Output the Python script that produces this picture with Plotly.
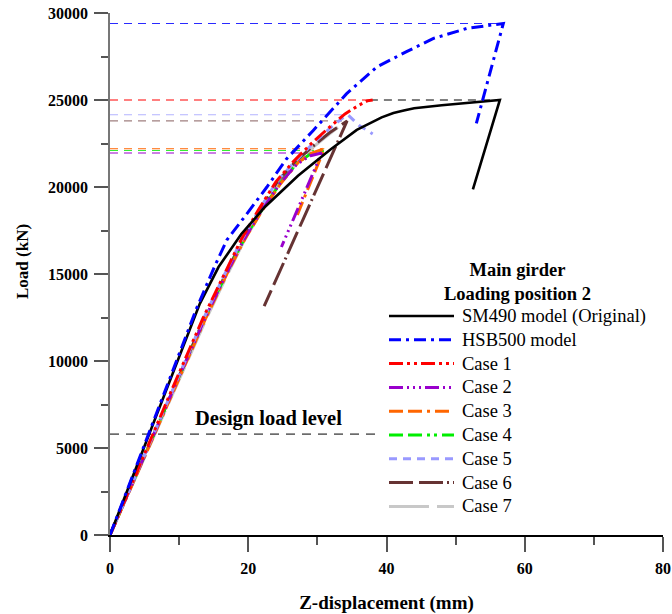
import plotly.graph_objects as go

# ---------------- data ----------------
sm490_x = [0, 4.3, 8.7, 13.0, 15.7, 17.4, 19.0, 22.4, 27.2, 31.8, 35.7, 39.3, 41.0, 42.5, 44.0, 48.0, 52.0, 56.4, 52.5]
sm490_y = [0, 4400, 8900, 13300, 15400, 16400, 17300, 18850, 20650, 22130, 23280, 24000, 24250, 24400, 24530, 24700, 24850, 25000, 19870]

hsb500_x = [0, 4.0, 8.0, 12.5, 15.2, 16.9, 19.5, 22.7, 25.5, 29.4, 34.2, 38.6, 42.9, 46.8, 51.6, 55.0, 56.9, 53.0]
hsb500_y = [0, 4150, 8350, 13000, 15500, 16950, 18300, 20000, 21600, 23250, 25350, 26900, 27780, 28540, 29110, 29300, 29400, 23660]

case1_x = [0, 4.5, 9.0, 13.5, 16.5, 19.0, 21.5, 24.0, 26.5, 29.0, 31.5, 34.0, 36.0, 37.2, 38.0]
case1_y = [0, 4250, 8400, 12500, 15000, 17000, 18700, 20300, 21450, 22450, 23350, 24200, 24700, 24950, 25000]

case2_x = [0, 4.6, 9.2, 13.8, 16.8, 19.4, 22.0, 24.6, 27.0, 29.0, 30.6, 27.5, 24.8]
case2_y = [0, 4250, 8400, 12500, 15000, 17000, 18700, 20200, 21300, 21800, 21950, 19050, 16550]

case3_x = [0, 4.7, 9.3, 13.9, 16.9, 19.5, 22.1, 24.7, 27.2, 29.2, 31.0, 29.0, 27.0]
case3_y = [0, 4250, 8400, 12500, 15000, 17000, 18700, 20200, 21400, 21950, 22200, 20300, 18300]

case4_x = [0, 4.6, 9.2, 13.8, 16.8, 19.4, 22.0, 24.6, 27.0, 29.0, 30.9]
case4_y = [0, 4250, 8400, 12500, 15000, 17000, 18700, 20200, 21350, 21900, 22100]

case5_x = [0, 4.6, 9.1, 13.6, 16.6, 19.1, 21.6, 24.1, 26.6, 29.1, 31.6, 33.6, 34.4, 36.0, 38.0]
case5_y = [0, 4250, 8400, 12500, 15000, 17000, 18700, 20300, 21400, 22400, 23300, 23950, 24150, 23550, 23050]

case6_x = [0, 4.6, 9.2, 13.7, 16.7, 19.2, 21.7, 24.2, 26.7, 29.2, 31.7, 34.3, 28.0, 22.3]
case6_y = [0, 4250, 8400, 12500, 15000, 17000, 18700, 20300, 21400, 22300, 23100, 23800, 18200, 13150]

case7_x = [0, 4.7, 9.3, 13.9, 16.9, 19.4, 21.9, 24.4, 26.9, 29.4, 31.6, 33.5]
case7_y = [0, 4200, 8300, 12400, 14900, 16900, 18600, 20100, 21300, 22300, 23000, 23600]

# peak reference levels (dashed horizontal lines)
ref_level = [25000, 29400, 25000, 24150, 23800, 22200, 22100, 21950]
ref_start = [37.6, 0, 0, 0, 0, 0, 0, 0]
ref_end = [56.4, 56.9, 37.6, 34.3, 34.3, 31.0, 30.9, 30.6]
ref_color = ["#000000", "#2a2aff", "#ff0000", "#b4b4ff", "#a08080", "#ff6600", "#33ee33", "#9900cc"]

design_load = 5800
design_end = 38.5

x_ticks = [0, 20, 40, 60, 80]
y_ticks = [0, 5000, 10000, 15000, 20000, 25000, 30000]

legend_names = ["SM490 model (Original)", "HSB500 model", "Case 1", "Case 2", "Case 3",
                "Case 4", "Case 5", "Case 6", "Case 7"]

FONT = "Liberation Serif"

# plot-area geometry in pixels (for paper-coordinate placement of text)
W, H = 672, 614
ML, MR, MT, MB = 110, 9, 13, 79
PW, PH = W - ML - MR, H - MT - MB


def px(xp):
    return (xp - ML) / PW


def py(yp):
    return 1 - (yp - MT) / PH


fig = go.Figure()

# reference lines
for lvl, xs0, xe, col in zip(ref_level, ref_start, ref_end, ref_color):
    fig.add_trace(go.Scatter(x=[xs0, xe], y=[lvl, lvl], mode="lines",
                             line=dict(color=col, width=1.1, dash="8px,6px"),
                             showlegend=False, hoverinfo="skip"))
fig.add_trace(go.Scatter(x=[0, design_end], y=[design_load, design_load], mode="lines",
                         line=dict(color="black", width=1, dash="9px,7px"),
                         showlegend=False, hoverinfo="skip"))

styles = {
    "SM490 model (Original)": ("#000000", "solid", 2.6),
    "HSB500 model": ("#0000ff", "12px,5px,3px,5px", 3),
    "Case 1": ("#ff0000", "14px,4px,3px,4px,3px,4px", 3),
    "Case 2": ("#9900cc", "14px,4px,2px,4px,2px,4px,2px,4px", 3),
    "Case 3": ("#ff6600", "14px,5px,14px,5px,3px,5px", 3),
    "Case 4": ("#00ee00", "14px,5px,14px,5px,3px,4px,3px,5px", 3),
    "Case 5": ("#9999ff", "8px,6px", 3),
    "Case 6": ("#663333", "24px,6px,24px,4px,2px,4px", 3),
    "Case 7": ("#c8c8c8", "40px,8px", 3),
}
data = {
    "SM490 model (Original)": (sm490_x, sm490_y),
    "HSB500 model": (hsb500_x, hsb500_y),
    "Case 1": (case1_x, case1_y),
    "Case 2": (case2_x, case2_y),
    "Case 3": (case3_x, case3_y),
    "Case 4": (case4_x, case4_y),
    "Case 5": (case5_x, case5_y),
    "Case 6": (case6_x, case6_y),
    "Case 7": (case7_x, case7_y),
}
draw_order = ["Case 7", "Case 6", "Case 4", "Case 3", "Case 2", "Case 5", "Case 1",
              "SM490 model (Original)", "HSB500 model"]
for name in draw_order:
    xs, ys = data[name]
    col, dash, w = styles[name]
    fig.add_trace(go.Scatter(x=xs, y=ys, mode="lines", name=name, showlegend=False,
                             line=dict(color=col, width=w, dash=dash)))

# legend (drawn as shapes + text so that sizes match the reference)
shapes = []
annotations = []
row0, row_gap = 316, 23.8
for i, name in enumerate(legend_names):
    col, dash, w = styles[name]
    yy = py(row0 + i * row_gap)
    shapes.append(dict(type="line", xref="paper", yref="paper", x0=px(389), x1=px(454), y0=yy, y1=yy,
                       line=dict(color=col, width=w, dash=dash)))
    annotations.append(dict(x=px(460), y=yy, xref="paper", yref="paper", text=name, showarrow=False,
                            xanchor="left", yanchor="middle",
                            font=dict(family=FONT, size=18.5, color="black")))

annotations.append(dict(x=px(517), y=py(282), xref="paper", yref="paper", xanchor="center", yanchor="middle",
                        text="<b>Main girder</b><br><b>Loading position 2</b>", showarrow=False,
                        align="center", font=dict(family=FONT, size=18.5, color="black")))
annotations.append(dict(x=23.0, y=6700, xref="x", yref="y", text="<b>Design load level</b>",
                        showarrow=False, font=dict(family=FONT, size=20.5, color="black")))
annotations.append(dict(x=px(22), y=py(262), xref="paper", yref="paper", text="<b>Load (kN)</b>",
                        textangle=-90, showarrow=False, xanchor="center", yanchor="middle",
                        font=dict(family=FONT, size=17, color="black")))

fig.update_layout(
    width=W, height=H,
    margin=dict(l=ML, r=MR, t=MT, b=MB, autoexpand=False),
    paper_bgcolor="white", plot_bgcolor="white",
    font=dict(family=FONT, color="black"),
    showlegend=False,
    shapes=shapes,
    annotations=annotations,
    xaxis=dict(range=[0, 80], tickvals=x_ticks, ticks="outside", ticklen=15, tickwidth=1.5,
               tickcolor="#555", showline=True, linecolor="black", linewidth=1.5,
               showgrid=False, zeroline=False, automargin=False, ticklabelstandoff=3,
               minor=dict(dtick=10, ticks="outside", ticklen=8, tickwidth=1.5, tickcolor="#555", showgrid=False),
               tickfont=dict(family=FONT, size=16, weight="bold"),
               title=dict(text="Z-displacement (mm)", font=dict(family=FONT, size=19, weight="bold"), standoff=20)),
    yaxis=dict(range=[0, 30000], tickvals=y_ticks, tickformat="d", ticks="outside", ticklen=14, tickwidth=1.5,
               tickcolor="#555", showline=True, linecolor="#777", linewidth=1.5,
               showgrid=False, zeroline=False, automargin=False, ticklabelstandoff=3,
               minor=dict(dtick=2500, ticks="outside", ticklen=7, tickwidth=1.5, tickcolor="#555", showgrid=False),
               tickfont=dict(family=FONT, size=16, weight="bold")),
)

fig.write_html("out.html")
